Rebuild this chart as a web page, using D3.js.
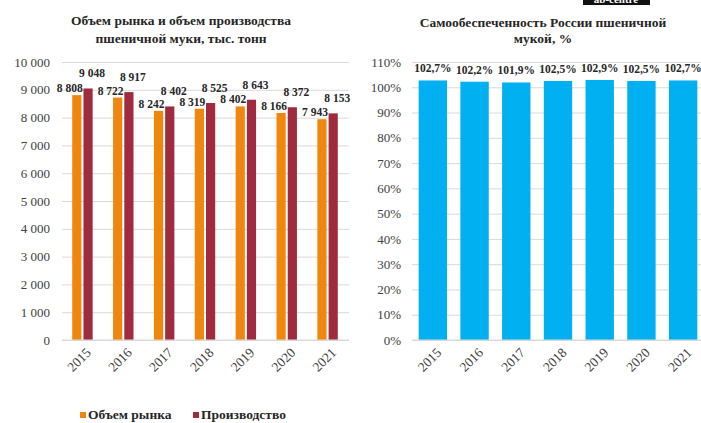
<!DOCTYPE html>
<html>
<head>
<meta charset="utf-8">
<script src="https://cdn.jsdelivr.net/npm/d3@7"></script>
<style>
    body { margin: 0; background: #fff; }
    svg { display: block; font-family: "Liberation Serif", "Times New Roman", serif; }
    svg text { font-family: "Liberation Serif", "Times New Roman", serif; }
    .grid line { stroke: #d9d9d9; }
    .tick text { fill: #404040; }
</style>
</head>
<body>
<svg id="chart" width="701" height="423"></svg>
<script>
var years = ["2015", "2016", "2017", "2018", "2019", "2020", "2021"];
var marketVolume = [8808, 8722, 8242, 8319, 8402, 8166, 7943];
var production = [9048, 8917, 8402, 8525, 8643, 8372, 8153];
var selfSufficiency = [102.7, 102.2, 101.9, 102.5, 102.9, 102.5, 102.7];
var leftTicks = [0, 1000, 2000, 3000, 4000, 5000, 6000, 7000, 8000, 9000, 10000];
var rightTicks = [0, 10, 20, 30, 40, 50, 60, 70, 80, 90, 100, 110];
var seriesNames = ["Объем рынка", "Производство"];

var orange = "#f0860d", maroon = "#a02a3e", blue = "#00b0f0";

var svg = d3.select("#chart");

function fmtThousands(v) {
    return d3.format(",")(v).replace(/,/g, " ");
}

// top-right watermark box (cut off in source)
svg.append("rect").attr("x", 583).attr("y", -10).attr("width", 67).attr("height", 15).attr("fill", "#111");
svg.append("text").attr("x", 616).attr("y", 3).attr("text-anchor", "middle")
    .attr("fill", "#fff").style("font-size", "11px").style("font-weight", "bold").text("ab-centre");

// ---------- left chart ----------
var plotTop = 62, plotBottom = 340;
var x0 = d3.scaleBand().domain(years).range([62, 348]).paddingInner(0.5).paddingOuter(0.25);
var y0 = d3.scaleLinear().domain([0, 10000]).range([plotBottom, plotTop]);

svg.append("g").attr("class", "grid")
    .attr("transform", "translate(62,0)")
    .call(d3.axisLeft(y0).tickValues(leftTicks).tickSize(-287).tickFormat(fmtThousands))
    .call(function (g) {
        g.attr("font-family", null);
        g.select(".domain").remove();
        g.selectAll(".tick text").attr("x", -12).style("font-size", "13px");
    });

var left = svg.append("g");
var bw = x0.bandwidth();
var half = bw * 0.45;

left.selectAll(".barA").data(marketVolume).enter().append("rect")
    .attr("x", function (d, i) { return x0(years[i]); })
    .attr("y", function (d) { return y0(d); })
    .attr("width", half)
    .attr("height", function (d) { return plotBottom - y0(d); })
    .attr("fill", orange);

left.selectAll(".barB").data(production).enter().append("rect")
    .attr("x", function (d, i) { return x0(years[i]) + bw - half; })
    .attr("y", function (d) { return y0(d); })
    .attr("width", half)
    .attr("height", function (d) { return plotBottom - y0(d); })
    .attr("fill", maroon);

left.selectAll(".lblA").data(marketVolume).enter().append("text")
    .attr("x", function (d, i) { return x0(years[i]) + half / 2 - 7; })
    .attr("y", function (d) { return y0(d) - 3; })
    .attr("text-anchor", "middle")
    .style("font-size", "11.5px").style("font-weight", "bold").attr("fill", "#262626")
    .text(fmtThousands);

left.selectAll(".lblB").data(production).enter().append("text")
    .attr("x", function (d, i) { return x0(years[i]) + bw - half / 2 + 4; })
    .attr("y", function (d) { return y0(d) - 11; })
    .attr("text-anchor", "middle")
    .style("font-size", "11.5px").style("font-weight", "bold").attr("fill", "#262626")
    .text(fmtThousands);

svg.append("g")
    .attr("transform", "translate(0," + plotBottom + ")")
    .call(d3.axisBottom(x0).tickSize(0))
    .call(function (g) {
        g.attr("font-family", null);
        g.select(".domain").attr("stroke", "#d9d9d9").attr("d", "M62,0H349");
        g.selectAll(".tick text")
            .attr("text-anchor", "end")
            .attr("transform", "translate(4,8) rotate(-45)")
            .attr("dy", "0.35em")
            .style("font-size", "13.5px");
    });

// left title
var t1 = svg.append("text").attr("text-anchor", "middle")
    .style("font-size", "13.5px").style("font-weight", "bold").attr("fill", "#262626");
t1.append("tspan").attr("x", 181).attr("y", 25).text("Объем рынка и объем производства");
t1.append("tspan").attr("x", 181).attr("y", 43).text("пшеничной муки, тыс. тонн");

// legend
var legend = svg.append("g");
var legX = [80, 193];
[orange, maroon].forEach(function (c, i) {
    legend.append("rect").attr("x", legX[i]).attr("y", 412).attr("width", 6).attr("height", 6).attr("fill", c);
    legend.append("text").attr("x", legX[i] + 8).attr("y", 419)
        .style("font-size", "13.5px").style("font-weight", "bold").attr("fill", "#262626")
        .text(seriesNames[i]);
});

// ---------- right chart ----------
var x1 = d3.scaleBand().domain(years).range([412, 704]).paddingInner(0.32).paddingOuter(0.16);
var y1 = d3.scaleLinear().domain([0, 110]).range([plotBottom, plotTop]);

svg.append("g").attr("class", "grid")
    .attr("transform", "translate(412,0)")
    .call(d3.axisLeft(y1).tickValues(rightTicks).tickSize(-292).tickFormat(function (d) { return d + "%"; }))
    .call(function (g) {
        g.attr("font-family", null);
        g.select(".domain").remove();
        g.selectAll(".tick text").attr("x", -11).style("font-size", "13px");
    });

var right = svg.append("g");
right.selectAll("rect").data(selfSufficiency).enter().append("rect")
    .attr("x", function (d, i) { return x1(years[i]); })
    .attr("y", function (d) { return y1(d); })
    .attr("width", x1.bandwidth())
    .attr("height", function (d) { return plotBottom - y1(d); })
    .attr("fill", blue);

right.selectAll("text").data(selfSufficiency).enter().append("text")
    .attr("x", function (d, i) { return x1(years[i]) + x1.bandwidth() / 2; })
    .attr("y", function (d) { return y1(d) - 8; })
    .attr("text-anchor", "middle")
    .style("font-size", "11.5px").style("font-weight", "bold").attr("fill", "#262626")
    .text(function (d) { return d.toFixed(1).replace(".", ",") + "%"; });

svg.append("g")
    .attr("transform", "translate(0," + plotBottom + ")")
    .call(d3.axisBottom(x1).tickSize(0))
    .call(function (g) {
        g.attr("font-family", null);
        g.select(".domain").attr("stroke", "#d9d9d9").attr("d", "M412,0H704");
        g.selectAll(".tick text")
            .attr("text-anchor", "end")
            .attr("transform", "translate(4,8) rotate(-45)")
            .attr("dy", "0.35em")
            .style("font-size", "13.5px");
    });

var t2 = svg.append("text").attr("text-anchor", "middle")
    .style("font-size", "13.5px").style("font-weight", "bold").attr("fill", "#262626");
t2.append("tspan").attr("x", 543).attr("y", 27).text("Самообеспеченность России пшеничной");
t2.append("tspan").attr("x", 543).attr("y", 43).text("мукой, %");
</script>
</body>
</html>
